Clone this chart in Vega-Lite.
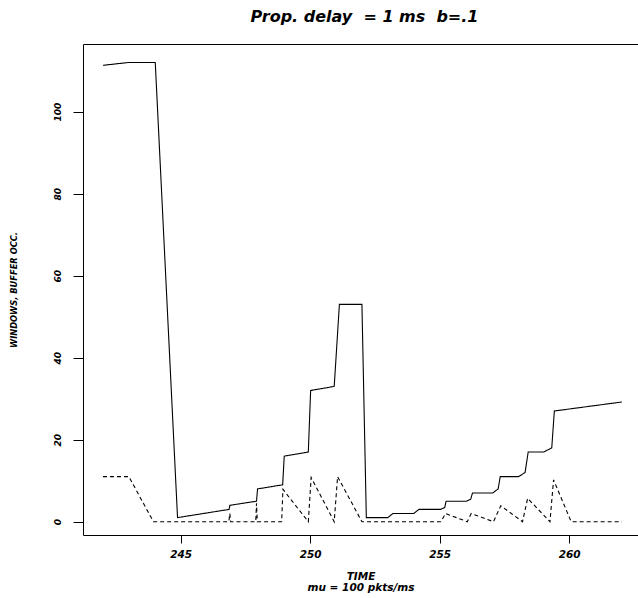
{
  "$schema": "https://vega.github.io/schema/vega-lite/v6.json",
  "width": 555,
  "height": 491,
  "autosize": {"type": "none"},
  "padding": {"left": 83, "top": 44, "right": 0, "bottom": 63},
  "background": "white",
  "config": {
    "view": {"stroke": "black", "strokeWidth": 1},
    "axis": {
      "domain": false, "grid": false, "tickColor": "black", "tickWidth": 1,
      "labelColor": "black", "titleColor": "black",
      "labelFont": "DejaVu Sans", "titleFont": "DejaVu Sans",
      "labelFontStyle": "italic", "titleFontStyle": "italic",
      "labelFontWeight": "bold", "titleFontWeight": "bold"
    }
  },
  "title": {
    "text": "Prop. delay\u00a0 = 1 ms\u00a0 b=.1",
    "font": "DejaVu Sans", "fontSize": 16, "fontStyle": "italic", "fontWeight": "bold",
    "anchor": "middle", "baseline": "alphabetic", "offset": 6, "dx": 4, "color": "black"
  },
  "data": {"values": [
    {"s": "w", "i": 0, "t": 242, "v": 111.3},
    {"s": "w", "i": 1, "t": 243, "v": 112},
    {"s": "w", "i": 2, "t": 244.02, "v": 112},
    {"s": "w", "i": 3, "t": 244.88, "v": 1},
    {"s": "w", "i": 4, "t": 246.87, "v": 3},
    {"s": "w", "i": 5, "t": 246.9, "v": 4},
    {"s": "w", "i": 6, "t": 247.93, "v": 5},
    {"s": "w", "i": 7, "t": 247.97, "v": 8},
    {"s": "w", "i": 8, "t": 248.94, "v": 9},
    {"s": "w", "i": 9, "t": 249.0, "v": 16},
    {"s": "w", "i": 10, "t": 249.93, "v": 17},
    {"s": "w", "i": 11, "t": 250.02, "v": 32},
    {"s": "w", "i": 12, "t": 250.93, "v": 33},
    {"s": "w", "i": 13, "t": 251.13, "v": 53},
    {"s": "w", "i": 14, "t": 252.0, "v": 53},
    {"s": "w", "i": 15, "t": 252.17, "v": 1},
    {"s": "w", "i": 16, "t": 253.0, "v": 1},
    {"s": "w", "i": 17, "t": 253.2, "v": 2},
    {"s": "w", "i": 18, "t": 254.0, "v": 2},
    {"s": "w", "i": 19, "t": 254.2, "v": 3},
    {"s": "w", "i": 20, "t": 255.04, "v": 3},
    {"s": "w", "i": 21, "t": 255.2, "v": 3.5},
    {"s": "w", "i": 22, "t": 255.25, "v": 5},
    {"s": "w", "i": 23, "t": 256.03, "v": 5},
    {"s": "w", "i": 24, "t": 256.2, "v": 5.5},
    {"s": "w", "i": 25, "t": 256.27, "v": 7},
    {"s": "w", "i": 26, "t": 257.05, "v": 7},
    {"s": "w", "i": 27, "t": 257.26, "v": 8},
    {"s": "w", "i": 28, "t": 257.34, "v": 11},
    {"s": "w", "i": 29, "t": 258.05, "v": 11},
    {"s": "w", "i": 30, "t": 258.3, "v": 12},
    {"s": "w", "i": 31, "t": 258.42, "v": 17},
    {"s": "w", "i": 32, "t": 259.02, "v": 17},
    {"s": "w", "i": 33, "t": 259.33, "v": 18},
    {"s": "w", "i": 34, "t": 259.43, "v": 27},
    {"s": "w", "i": 35, "t": 262.04, "v": 29.2},
    {"s": "b", "i": 0, "t": 242, "v": 11},
    {"s": "b", "i": 1, "t": 243, "v": 11},
    {"s": "b", "i": 2, "t": 243.95, "v": 0},
    {"s": "b", "i": 3, "t": 246.86, "v": 0},
    {"s": "b", "i": 4, "t": 246.9, "v": 2},
    {"s": "b", "i": 5, "t": 246.93, "v": 0},
    {"s": "b", "i": 6, "t": 247.9, "v": 0},
    {"s": "b", "i": 7, "t": 247.93, "v": 4.5},
    {"s": "b", "i": 8, "t": 247.96, "v": 0},
    {"s": "b", "i": 9, "t": 248.9, "v": 0},
    {"s": "b", "i": 10, "t": 248.95, "v": 7.9},
    {"s": "b", "i": 11, "t": 249.93, "v": 0},
    {"s": "b", "i": 12, "t": 250.04, "v": 10.8},
    {"s": "b", "i": 13, "t": 250.93, "v": 0},
    {"s": "b", "i": 14, "t": 251.06, "v": 11},
    {"s": "b", "i": 15, "t": 252.0, "v": 0},
    {"s": "b", "i": 16, "t": 255.05, "v": 0},
    {"s": "b", "i": 17, "t": 255.23, "v": 2},
    {"s": "b", "i": 18, "t": 256.07, "v": 0},
    {"s": "b", "i": 19, "t": 256.22, "v": 2},
    {"s": "b", "i": 20, "t": 257.08, "v": 0},
    {"s": "b", "i": 21, "t": 257.36, "v": 3.9},
    {"s": "b", "i": 22, "t": 258.2, "v": 0},
    {"s": "b", "i": 23, "t": 258.4, "v": 5.7},
    {"s": "b", "i": 24, "t": 259.26, "v": 0},
    {"s": "b", "i": 25, "t": 259.4, "v": 10.2},
    {"s": "b", "i": 26, "t": 260.08, "v": 0},
    {"s": "b", "i": 27, "t": 262.04, "v": 0}
  ]},
  "mark": {"type": "line", "color": "black", "strokeWidth": 1.1, "clip": true},
  "encoding": {
    "x": {
      "field": "t", "type": "quantitative",
      "scale": {"domain": [241.23, 262.66], "nice": false, "zero": false},
      "axis": {
        "values": [245, 250, 255, 260], "tickSize": 8,
        "labelFontSize": 10.5, "labelPadding": 6,
        "title": ["TIME", "mu = 100 pkts/ms"],
        "titleFontSize": 10.5, "titleLineHeight": 11, "titlePadding": 12
      }
    },
    "y": {
      "field": "v", "type": "quantitative",
      "scale": {"domain": [-3.24, 116.5], "nice": false, "zero": false},
      "axis": {
        "values": [0, 20, 40, 60, 80, 100], "tickSize": 10,
        "labelAngle": -90, "labelAlign": "center", "labelBaseline": "bottom",
        "labelFontSize": 9, "labelPadding": 11,
        "title": "WINDOWS, BUFFER OCC.", "titleFontSize": 8.3, "titlePadding": 35
      }
    },
    "strokeDash": {
      "field": "s", "type": "nominal",
      "scale": {"domain": ["w", "b"], "range": [[1, 0], [4, 3]]},
      "legend": null
    },
    "order": {"field": "i", "type": "quantitative"}
  }
}
